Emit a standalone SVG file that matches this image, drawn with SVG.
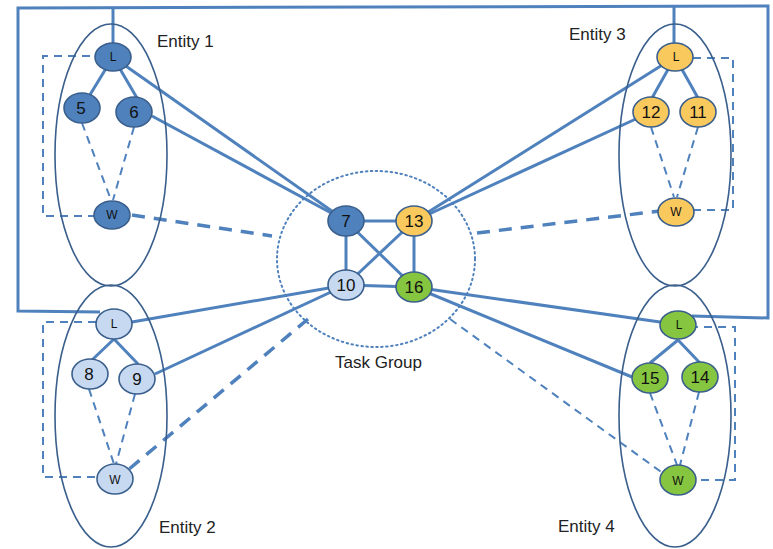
<svg xmlns="http://www.w3.org/2000/svg" width="773" height="549" viewBox="0 0 773 549">
  <style>
    .frame { fill: none; stroke: #4f81bd; stroke-width: 3; }
    .entity { fill: none; stroke: #3a5f8c; stroke-width: 1.6; }
    .group { fill: none; stroke: #4f81bd; stroke-width: 2; stroke-dasharray: 1.5 3.5; stroke-linecap: round; }
    .solid { stroke: #4f81bd; stroke-width: 3; fill: none; }
    .dash-thick { stroke: #4f81bd; stroke-width: 3.5; fill: none; stroke-dasharray: 13 9; }
    .dash { stroke: #4f81bd; stroke-width: 2; fill: none; stroke-dasharray: 8 6; }
    .node ellipse { stroke: #3a5f8c; stroke-width: 1.6; }
    .dark ellipse { fill: #4f81bd; }
    .light ellipse { fill: #c6d9f1; }
    .orange ellipse { fill: #fac95d; }
    .green ellipse { fill: #86c540; }
    .num { font-family: "Liberation Sans", Arial, sans-serif; font-size: 17px; fill: #111; text-anchor: middle; }
    .small { font-family: "Liberation Sans", Arial, sans-serif; font-size: 12px; fill: #111; text-anchor: middle; }
    .label { font-family: "Liberation Sans", Arial, sans-serif; font-size: 17px; fill: #222; }
  </style>

  <!-- connectors -->
  <g id="connectors">
    <!-- outer frame linking the entity leaders -->
    <polyline class="frame" points="100,312 18,311 18,8 768,6 768,318 692,316"/>
    <line class="frame" x1="113" y1="8" x2="113" y2="43"/>
    <line class="frame" x1="674" y1="6" x2="674" y2="43"/>

    <!-- entity internal trees -->
    <line class="solid" x1="113" y1="57" x2="88" y2="98"/>
    <line class="solid" x1="113" y1="57" x2="137" y2="98"/>
    <line class="solid" x1="675" y1="57" x2="652" y2="98"/>
    <line class="solid" x1="675" y1="57" x2="698" y2="98"/>
    <line class="solid" x1="114" y1="339" x2="92" y2="360"/>
    <line class="solid" x1="114" y1="339" x2="138" y2="364"/>
    <line class="solid" x1="678" y1="340" x2="650" y2="363"/>
    <line class="solid" x1="678" y1="340" x2="700" y2="363"/>

    <!-- worker links inside entities -->
    <line class="dash" x1="82" y1="123" x2="111" y2="200"/>
    <line class="dash" x1="134" y1="127" x2="113" y2="200"/>
    <line class="dash" x1="651" y1="127" x2="674" y2="197"/>
    <line class="dash" x1="698" y1="127" x2="677" y2="197"/>
    <line class="dash" x1="89" y1="389" x2="114" y2="464"/>
    <line class="dash" x1="135" y1="394" x2="116" y2="464"/>
    <line class="dash" x1="650" y1="393" x2="677" y2="465"/>
    <line class="dash" x1="699" y1="392" x2="680" y2="465"/>

    <!-- leader-to-worker loops -->
    <polyline class="dash" points="90,56 43,56 43,216 94,216"/>
    <polyline class="dash" points="693,58 733,58 733,210 694,210"/>
    <polyline class="dash" points="96,322 43,322 43,477 97,477"/>
    <polyline class="dash" points="690,327 735,327 735,480 696,480"/>

    <!-- links into the task group -->
    <line class="solid" x1="113" y1="57" x2="346" y2="221"/>
    <line class="solid" x1="152" y1="116" x2="346" y2="221"/>
    <line class="solid" x1="675" y1="57" x2="414" y2="221"/>
    <line class="solid" x1="651" y1="112" x2="414" y2="221"/>
    <line class="solid" x1="132" y1="322" x2="346" y2="285"/>
    <line class="solid" x1="155" y1="374" x2="346" y2="285"/>
    <line class="solid" x1="660" y1="322" x2="414" y2="287"/>
    <line class="solid" x1="632" y1="377" x2="414" y2="287"/>

    <line class="dash-thick" x1="132" y1="215" x2="272" y2="236"/>
    <line class="dash-thick" x1="477" y1="233" x2="660" y2="211"/>
    <line class="dash-thick" x1="308" y1="319" x2="128" y2="470"/>
    <line class="dash" x1="450" y1="319" x2="664" y2="474"/>

    <!-- task group mesh -->
    <line class="solid" x1="346" y1="221" x2="414" y2="221"/>
    <line class="solid" x1="346" y1="221" x2="346" y2="285"/>
    <line class="solid" x1="346" y1="285" x2="414" y2="287"/>
    <line class="solid" x1="414" y1="221" x2="414" y2="287"/>
    <line class="solid" x1="346" y1="221" x2="414" y2="287"/>
    <line class="solid" x1="414" y1="221" x2="346" y2="285"/>
  </g>

  <!-- entity boundaries -->
  <g id="entity1">
    <ellipse class="entity" cx="111" cy="155" rx="56" ry="131"/>
    <text class="label" x="157" y="47">Entity 1</text>
  </g>
  <g id="entity2">
    <ellipse class="entity" cx="111" cy="416" rx="56" ry="131"/>
    <text class="label" x="159" y="533">Entity 2</text>
  </g>
  <g id="entity3">
    <ellipse class="entity" cx="675" cy="155" rx="56" ry="131"/>
    <text class="label" x="569" y="40">Entity 3</text>
  </g>
  <g id="entity4">
    <ellipse class="entity" cx="675" cy="416" rx="56" ry="131"/>
    <text class="label" x="558" y="532">Entity 4</text>
  </g>

  <g id="task-group">
    <ellipse class="group" cx="376" cy="259" rx="99" ry="88"/>
    <text class="label" x="335" y="368">Task Group</text>
  </g>

  <!-- entity 1 nodes -->
  <g id="e1-L" class="node dark"><ellipse cx="113" cy="57" rx="18" ry="14"/><text class="small" x="113" y="61">L</text></g>
  <g id="e1-5" class="node dark"><ellipse cx="82" cy="108" rx="18" ry="15"/><text class="num" x="81" y="114">5</text></g>
  <g id="e1-6" class="node dark"><ellipse cx="134" cy="112" rx="18" ry="15"/><text class="num" x="134" y="118">6</text></g>
  <g id="e1-W" class="node dark"><ellipse cx="112" cy="215" rx="18" ry="14"/><text class="small" x="112" y="219">W</text></g>

  <!-- entity 2 nodes -->
  <g id="e2-L" class="node light"><ellipse cx="114" cy="324" rx="18" ry="15"/><text class="small" x="114" y="328">L</text></g>
  <g id="e2-8" class="node light"><ellipse cx="90" cy="374" rx="18" ry="15"/><text class="num" x="89" y="380">8</text></g>
  <g id="e2-9" class="node light"><ellipse cx="137" cy="379" rx="18" ry="15"/><text class="num" x="137" y="385">9</text></g>
  <g id="e2-W" class="node light"><ellipse cx="115" cy="479" rx="18" ry="15"/><text class="small" x="115" y="484">W</text></g>

  <!-- entity 3 nodes -->
  <g id="e3-L" class="node orange"><ellipse cx="675" cy="57" rx="18" ry="14"/><text class="small" x="676" y="61">L</text></g>
  <g id="e3-12" class="node orange"><ellipse cx="651" cy="112" rx="18" ry="15"/><text class="num" x="651" y="118">12</text></g>
  <g id="e3-11" class="node orange"><ellipse cx="698" cy="112" rx="18" ry="15"/><text class="num" x="698" y="118">11</text></g>
  <g id="e3-W" class="node orange"><ellipse cx="676" cy="212" rx="18" ry="14"/><text class="small" x="676" y="216">W</text></g>

  <!-- entity 4 nodes -->
  <g id="e4-L" class="node green"><ellipse cx="678" cy="325" rx="18" ry="14"/><text class="small" x="679" y="329">L</text></g>
  <g id="e4-15" class="node green"><ellipse cx="650" cy="378" rx="18" ry="15"/><text class="num" x="650" y="384">15</text></g>
  <g id="e4-14" class="node green"><ellipse cx="700" cy="377" rx="18" ry="15"/><text class="num" x="700" y="383">14</text></g>
  <g id="e4-W" class="node green"><ellipse cx="678" cy="480" rx="18" ry="15"/><text class="small" x="678" y="485">W</text></g>

  <!-- task group nodes -->
  <g id="tg-7" class="node dark"><ellipse cx="346" cy="221" rx="18" ry="15"/><text class="num" x="346" y="227">7</text></g>
  <g id="tg-13" class="node orange"><ellipse cx="414" cy="221" rx="18" ry="15"/><text class="num" x="414" y="227">13</text></g>
  <g id="tg-10" class="node light"><ellipse cx="346" cy="285" rx="18" ry="15"/><text class="num" x="346" y="291">10</text></g>
  <g id="tg-16" class="node green"><ellipse cx="414" cy="287" rx="18" ry="15"/><text class="num" x="414" y="293">16</text></g>
</svg>
